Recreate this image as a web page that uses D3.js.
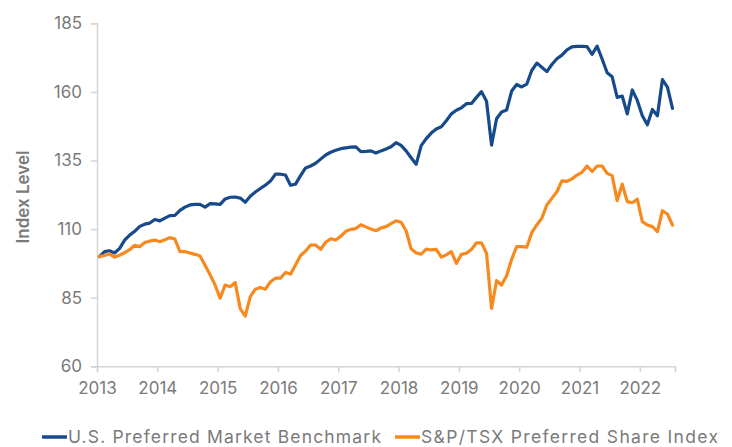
<!DOCTYPE html>
<html>
<head>
<meta charset="utf-8">
<script src="https://cdn.jsdelivr.net/npm/d3@7"></script>
<style>
  html, body { margin: 0; padding: 0; background: #fff; }
  svg { display: block; }
  text { font-family: Inter, "Noto Sans", sans-serif; fill: #7a7a7a; }
</style>
</head>
<body>
<svg id="chart" width="732" height="447"></svg>
<script>
// Monthly index levels, Jan 2013 .. Jul 2022 (base 100)
const seriesNames = ["U.S. Preferred Market Benchmark", "S&P/TSX Preferred Share Index"];
const seriesColors = ["#174a8b", "#f7891f"];
const yearLabels = ["2013","2014","2015","2016","2017","2018","2019","2020","2021","2022"];
const yTicks = [60, 85, 110, 135, 160, 185];

const usPreferred = [
  100, 101.8, 102.1, 101.3, 103, 106, 107.8, 109.2, 111, 111.8, 112.2, 113.5,
  113, 114, 114.9, 115, 116.8, 118, 118.8, 119, 119, 118, 119.3, 119.2,
  119, 121, 121.6, 121.7, 121.3, 119.8, 122, 123.5, 124.8, 126, 127.5, 130,
  130, 129.7, 126, 126.4, 129.5, 132.3, 133, 134, 135.5, 137, 138, 138.7,
  139.3, 139.6, 139.9, 140, 138.2, 138.3, 138.5, 137.7, 138.5, 139.2, 140, 141.5,
  140.5, 138.5, 136, 133.6, 140.4, 143, 145, 146.5, 147.3, 149.5, 152, 153.3,
  154.2, 155.7, 155.8, 158, 160.1, 156.6, 140.6, 150.2, 152.7, 153.4, 160.3, 162.7,
  161.8, 162.8, 167.8, 170.5, 169, 167.4, 170, 172.1, 173.4, 175.3, 176.4, 176.6,
  176.6, 176.5, 173.7, 176.7, 172, 167, 165.5, 158, 158.5, 152, 160.7, 156.9,
  151.3, 148, 153.6, 151.3, 164.5, 161.7, 154
];

const tsxPreferred = [
  100, 100.4, 101, 99.8, 100.5, 101.4, 102.5, 104.1, 103.6, 105.1, 105.6, 106,
  105.4, 106.1, 106.9, 106.4, 101.8, 101.8, 101.3, 100.8, 100.2, 96.8, 93.4, 89.6,
  84.8, 89.6, 89, 90.5, 81, 78.3, 85.4, 88.1, 88.7, 88.1, 90.8, 92.1,
  92.1, 94.2, 93.6, 96.9, 100.4, 102, 104.2, 104.2, 102.6, 105.2, 106.5, 106,
  107.4, 109.2, 109.9, 110.2, 111.6, 110.8, 110, 109.4, 110.4, 110.9, 112, 113,
  112.5, 109.4, 102.8, 101.3, 100.9, 102.7, 102.4, 102.6, 99.8, 100.6, 101.8, 97.5,
  100.8, 101.2, 102.6, 105, 105, 101.2, 81.1, 91.2, 89.6, 93, 99, 103.6,
  103.6, 103.4, 108.7, 111.5, 114, 118.8, 121.2, 123.6, 127.6, 127.4, 128.3, 129.7,
  130.7, 133, 131, 133, 133, 130.3, 129.5, 120.4, 126.4, 120, 119.6, 120.9,
  112.7, 111.5, 110.9, 109.1, 116.7, 115.5, 111.5
];

const svg = d3.select("#chart");

// month scale: 0 = start of Jan 2013
const x = d3.scaleLinear().domain([0, 115]).range([97, 675]);
const y = d3.scaleLinear().domain([60, 185]).range([366.3, 23.3]);

// Y axis
const yAxis = d3.axisLeft(y).tickValues(yTicks).tickSize(6).tickPadding(9).tickFormat(d3.format("d"));
const gy = svg.append("g").attr("transform", "translate(97,0)").call(yAxis);
gy.select(".domain").attr("stroke", "#d4d4d4").attr("stroke-width", 1.5);
gy.selectAll(".tick line").attr("stroke", "#d4d4d4").attr("stroke-width", 1.5);
gy.selectAll(".tick text").style("font-size", "17px").attr("fill", "#7a7a7a");

// X axis
const xAxis = d3.axisBottom(x)
  .tickValues(d3.range(0, 109, 12))
  .tickSize(6).tickPadding(10)
  .tickFormat((d, i) => yearLabels[i]);
const gx = svg.append("g").attr("transform", "translate(0,366.3)").call(xAxis);
gx.select(".domain").attr("stroke", "#d4d4d4").attr("stroke-width", 1.5);
gx.selectAll(".tick line").attr("stroke", "#d4d4d4").attr("stroke-width", 1.5);
gx.selectAll(".tick text").style("font-size", "17px").attr("fill", "#7a7a7a");

// Y title
svg.append("text")
  .attr("transform", "translate(29,197) rotate(-90)")
  .attr("text-anchor", "middle")
  .style("font-size", "17px")
  .style("font-weight", "600")
  .attr("fill", "#7a7a7a")
  .text("Index Level");

// Lines
const line = d3.line()
  .x((d, i) => x(i + 0.5))
  .y(d => y(d))
  .curve(d3.curveLinear);

[usPreferred, tsxPreferred].forEach((data, k) => {
  svg.append("path")
    .datum(data)
    .attr("fill", "none")
    .attr("stroke", seriesColors[k])
    .attr("stroke-width", 3.2)
    .attr("stroke-linejoin", "round")
    .attr("stroke-linecap", "round")
    .attr("d", line);
});

// Legend
const legendTextWidths = [313, 297];
const legend = svg.append("g").attr("transform", "translate(0,437)");
let lx = 42;
seriesNames.forEach((name, k) => {
  const g = legend.append("g").attr("transform", `translate(${lx},0)`);
  g.append("line").attr("x1", 0).attr("x2", 25).attr("y1", 0).attr("y2", 0)
    .attr("stroke", seriesColors[k]).attr("stroke-width", 3.5);
  g.append("text").attr("x", 26).attr("y", 5.5)
    .style("font-size", "17.5px")
    .attr("textLength", legendTextWidths[k])
    .attr("lengthAdjust", "spacing")
    .attr("fill", "#7a7a7a").text(name);
  lx += 26 + legendTextWidths[k] + 14;
});
</script>
</body>
</html>
